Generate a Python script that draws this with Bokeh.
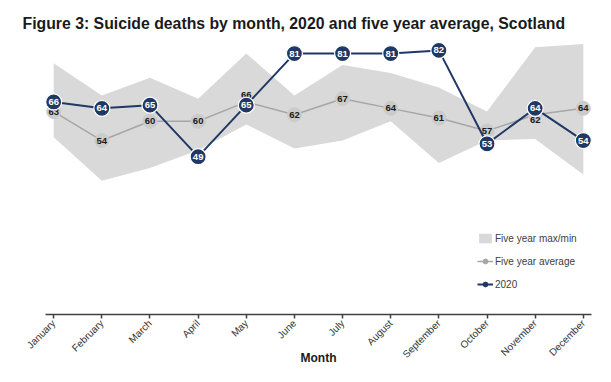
import math
from bokeh.plotting import figure
from bokeh.models import ColumnDataSource, Range1d, Legend, LegendItem, FixedTicker
from bokeh.core.properties import value
from bokeh.embed import file_html
from bokeh.resources import INLINE

months = ["January", "February", "March", "April", "May", "June", "July",
          "August", "September", "October", "November", "December"]
five_year_avg = [63, 54, 60, 60, 66, 62, 67, 64, 61, 57, 62, 64]
deaths_2020 = [66, 64, 65, 49, 65, 81, 81, 81, 82, 53, 64, 54]
five_year_max = [78, 68, 73.5, 67, 81, 68, 77.5, 75, 70.5, 63, 83, 84]
five_year_min = [55, 41.5, 45.5, 51, 59, 51.5, 54, 60, 47, 54, 54.5, 43.5]
avg_label_dy = [0, 0, 0, 0, -7, 0, 0, 0, 0, 0, 5, 0]

x = list(range(len(months)))
src = ColumnDataSource(dict(
    x=x, avg=five_year_avg, y20=deaths_2020, mx=five_year_max, mn=five_year_min,
    avg_txt=[str(v) for v in five_year_avg], y20_txt=[str(v) for v in deaths_2020],
    dy=avg_label_dy))

NAVY = "#1f3864"
FONT = "Liberation Sans"
nan = float("nan")

p = figure(frame_width=546, frame_height=277, output_backend="svg", toolbar_location=None,
           x_range=Range1d(-0.17, 11.17), y_range=Range1d(0, 86),
           min_border_left=45, min_border_right=4, min_border_top=37, min_border_bottom=50)
p.outline_line_color = None
p.xgrid.visible = False
p.ygrid.visible = False
p.yaxis.visible = False

p.title.text = "Figure 3: Suicide deaths by month, 2020 and five year average, Scotland"
p.title.text_font = FONT
p.title.text_font_size = "15.8px"
p.title.text_font_style = "bold"
p.title.text_color = "#1a1a1a"
p.title.offset = -23
p.title.standoff = 12

band = p.varea(x="x", y1="mn", y2="mx", source=src, fill_color="#d9d9d9")
p.line(x="x", y="avg", source=src, line_color="#a6a6a6", line_width=1.5)
p.scatter(x="x", y="avg", source=src, size=14, fill_color="#cbcbcb", line_color="#cbcbcb")
p.text(x="x", y="avg", text="avg_txt", source=src, y_offset="dy", text_align="center",
       text_baseline="middle", text_font=value(FONT), text_font_size="9.5px",
       text_font_style="bold", text_color="#1a1a1a")
p.line(x="x", y="y20", source=src, line_color=NAVY, line_width=2)
p.scatter(x="x", y="y20", source=src, size=16, fill_color=NAVY, line_color="white", line_width=1.2)
p.text(x="x", y="y20", text="y20_txt", source=src, text_align="center",
       text_baseline="middle", text_font=value(FONT), text_font_size="9.5px",
       text_font_style="bold", text_color="white")

# legend-only renderers (NaN data, nothing drawn on the plot)
la = p.line(x=[nan, nan], y=[nan, nan], line_color="#a6a6a6", line_width=1.5)
lac = p.scatter(x=[nan], y=[nan], size=6, fill_color="#a6a6a6", line_color="#a6a6a6")
lb = p.line(x=[nan, nan], y=[nan, nan], line_color=NAVY, line_width=2)
lbc = p.scatter(x=[nan], y=[nan], size=6, fill_color=NAVY, line_color=NAVY)

legend = Legend(items=[
    LegendItem(label="Five year max/min", renderers=[band]),
    LegendItem(label="Five year average", renderers=[la, lac]),
    LegendItem(label="2020", renderers=[lb, lbc]),
], location=(432, 24), background_fill_alpha=0, border_line_color=None,
    padding=0, margin=0, spacing=11, glyph_width=16, glyph_height=12,
    label_height=12, label_standoff=2, label_text_font=FONT,
    label_text_font_size="10px", label_text_color="#404040")
p.add_layout(legend)

ax = p.xaxis[0]
ax.ticker = FixedTicker(ticks=x)
ax.major_label_overrides = {i: m for i, m in enumerate(months)}
ax.major_label_orientation = math.pi / 4
ax.major_label_text_font = FONT
ax.major_label_text_font_size = "10px"
ax.major_label_text_color = "#333333"
ax.minor_tick_line_color = None
ax.major_tick_in = 0
ax.major_tick_out = 4
ax.axis_line_color = "#404040"
ax.axis_line_width = 1.5
ax.major_tick_line_color = "#404040"
ax.major_tick_line_width = 1.5
ax.major_label_standoff = 3
ax.axis_label = "Month"
ax.axis_label_text_font = FONT
ax.axis_label_text_font_style = "bold"
ax.axis_label_text_font_size = "12px"
ax.axis_label_text_color = "#1a1a1a"
ax.axis_label_standoff = -16

open("out.html", "w").write(file_html(p, INLINE))
